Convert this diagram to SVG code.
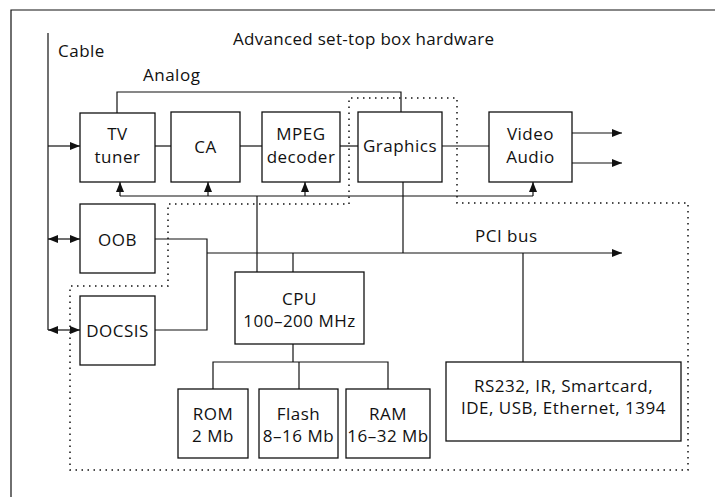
<svg xmlns="http://www.w3.org/2000/svg" width="715" height="497" viewBox="0 0 715 497">
<style>
text{font-family:"Open Sans","Noto Sans","Liberation Sans",sans-serif;font-size:17px;letter-spacing:0.5px;fill:#111;text-anchor:middle}
.box{fill:#fff;stroke:#111;stroke-width:1.3}
.ln{fill:none;stroke:#111;stroke-width:1.2}
.dot{fill:none;stroke:#111;stroke-width:1.5;stroke-dasharray:1.5 4.5}
.l{text-anchor:start}
.t{letter-spacing:0.3px}
</style>
<defs>
<marker id="ah" viewBox="0 0 10 8" refX="10" refY="4" markerWidth="10" markerHeight="8" markerUnits="userSpaceOnUse" orient="auto-start-reverse">
<path d="M0,0 L10,4 L0,8 Z" fill="#111"/>
</marker>
</defs>
<rect width="715" height="497" fill="#fff"/>
<g id="frame" class="ln">
<path d="M11,497 V10 H715"/>
</g>
<g id="labels">
<text x="233" y="45" class="l t">Advanced set-top box hardware</text>
<text x="58" y="57" class="l">Cable</text>
<text x="143" y="81" class="l">Analog</text>
<text x="475" y="242" class="l">PCI bus</text>
</g>
<g id="boundary">
<path class="dot" d="M349,204 V98 H457 V203 H688 V470 H70 V286 H168 V204 Z"/>
</g>
<g id="connectors" class="ln">
<path d="M48,33 V330"/>
<path d="M48,146 H80" marker-end="url(#ah)"/>
<path d="M48,239 H80" marker-start="url(#ah)" marker-end="url(#ah)"/>
<path d="M48,330 H80" marker-start="url(#ah)" marker-end="url(#ah)"/>
<path d="M117,113 V92 H401 V112"/>
<path d="M155,146 H171"/>
<path d="M240,146 H262"/>
<path d="M340,146 H358"/>
<path d="M442,146 H489"/>
<path d="M572,133 H622" marker-end="url(#ah)"/>
<path d="M572,163 H622" marker-end="url(#ah)"/>
<path d="M120,196 H533"/>
<path d="M120,196 V182" marker-end="url(#ah)"/>
<path d="M208,196 V182" marker-end="url(#ah)"/>
<path d="M305,196 V182" marker-end="url(#ah)"/>
<path d="M533,196 V182" marker-end="url(#ah)"/>
<path d="M257,196 V272"/>
<path d="M403,182 V253"/>
<path d="M155,239 H207 V330 H155"/>
<path d="M207,253 H622" marker-end="url(#ah)"/>
<path d="M293,253 V272"/>
<path d="M523,253 V362"/>
<path d="M293,344 V362"/>
<path d="M213,389 V362 H388 V389"/>
<path d="M299,362 V389"/>
</g>
<g id="tv-tuner"><rect class="box" x="80" y="113" width="75" height="69"/><text x="117.5" y="140">TV</text><text x="117.5" y="163">tuner</text></g>
<g id="ca"><rect class="box" x="171" y="112" width="69" height="70"/><text x="205.5" y="153">CA</text></g>
<g id="mpeg"><rect class="box" x="262" y="112" width="78" height="70"/><text x="301" y="140">MPEG</text><text x="301" y="163">decoder</text></g>
<g id="graphics"><rect class="box" x="358" y="112" width="84" height="70"/><text x="400" y="152">Graphics</text></g>
<g id="video-audio"><rect class="box" x="489" y="112" width="83" height="70"/><text x="530.5" y="140">Video</text><text x="530.5" y="163">Audio</text></g>
<g id="oob"><rect class="box" x="80" y="204" width="75" height="69"/><text x="117.5" y="246">OOB</text></g>
<g id="docsis"><rect class="box" x="80" y="296" width="75" height="69"/><text x="117.5" y="337">DOCSIS</text></g>
<g id="cpu"><rect class="box" x="235" y="272" width="129" height="72"/><text x="299.5" y="305">CPU</text><text x="299.5" y="327">100–200 MHz</text></g>
<g id="rom"><rect class="box" x="178" y="389" width="70" height="69"/><text x="213" y="420">ROM</text><text x="213" y="442">2 Mb</text></g>
<g id="flash"><rect class="box" x="259" y="389" width="79" height="69"/><text x="298.5" y="420">Flash</text><text x="298.5" y="442">8–16 Mb</text></g>
<g id="ram"><rect class="box" x="346" y="389" width="84" height="69"/><text x="388" y="420">RAM</text><text x="388" y="442">16–32 Mb</text></g>
<g id="io"><rect class="box" x="446" y="362" width="235" height="79"/><text x="563.5" y="392">RS232, IR, Smartcard,</text><text x="563.5" y="414">IDE, USB, Ethernet, 1394</text></g>
</svg>
